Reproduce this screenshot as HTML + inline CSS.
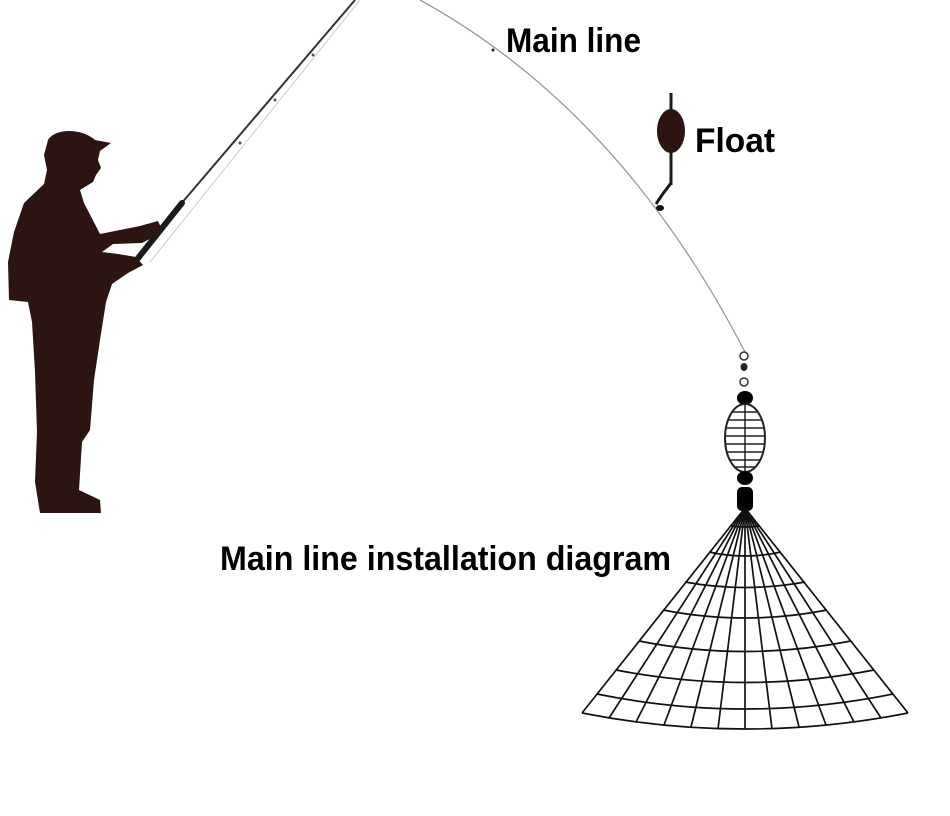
<!DOCTYPE html>
<html><head><meta charset="utf-8"><style>
html,body{margin:0;padding:0;background:#fff;}
svg{display:block;}
text{font-family:"Liberation Sans",Arial,sans-serif;font-weight:bold;fill:#000;}
</style></head><body>
<svg width="950" height="816" viewBox="0 0 950 816" xmlns="http://www.w3.org/2000/svg">
<!-- rod -->
<line x1="355" y1="0" x2="180" y2="205" stroke="#333" stroke-width="2"/>
<line x1="182" y1="203" x2="135" y2="262" stroke="#1a1a1a" stroke-width="6" stroke-linecap="round"/>
<line x1="360" y1="0" x2="150" y2="262" stroke="#ccc" stroke-width="1"/>
<circle cx="313" cy="55" r="1.5" fill="#555"/><circle cx="275" cy="100" r="1.5" fill="#555"/><circle cx="240" cy="143" r="1.5" fill="#555"/>
<!-- fisherman silhouette -->
<path fill="#2a1512" d="M48,140 C55,128 82,128 95,140 L111,143 L100,151 L98,160 L101,168 L96,175 L93,182 L80,190 L84,203 L100,234 L140,226 L158,221 L163,232 L142,243 L113,244 L102,252 L118,254 L136,257 L143,265 L128,273 L112,284 L106,302 L100,340 L94,380 L90,430 L82,442 L79,490 L100,500 L101,513 L40,513 L35,482 L37,432 L35,372 L32,322 L28,302 L9,300 L8,262 L14,232 L24,203 L44,184 L47,170 L44,155 Z"/>
<!-- main line -->
<path d="M420,0 Q620,110 745,352" fill="none" stroke="#999" stroke-width="1.3"/>
<circle cx="493" cy="50" r="1.5" fill="#222"/>
<!-- float -->
<line x1="671" y1="93" x2="671" y2="185" stroke="#1a1a1a" stroke-width="3"/>
<ellipse cx="671" cy="131" rx="14" ry="22" fill="#2a1512"/>
<path d="M671,183 L662,195 L656,204" fill="none" stroke="#1a1a1a" stroke-width="3"/>
<ellipse cx="660" cy="208" rx="4" ry="3" fill="#111"/>
<!-- rig -->
<circle cx="744" cy="356" r="4" fill="none" stroke="#333" stroke-width="1.5"/>
<ellipse cx="744" cy="367" rx="3.5" ry="4" fill="#222"/>
<circle cx="744" cy="382" r="4" fill="none" stroke="#333" stroke-width="1.5"/>
<ellipse cx="745" cy="398" rx="8" ry="7" fill="#000"/>
<ellipse cx="745" cy="438" rx="20" ry="34" fill="none" stroke="#222" stroke-width="2"/>
<line x1="745" y1="404" x2="745" y2="472" stroke="#222" stroke-width="1.5"/>
<g stroke="#222" stroke-width="1.6">
<line x1="733" y1="412" x2="757" y2="412"/><line x1="728" y1="420" x2="762" y2="420"/><line x1="726" y1="428" x2="764" y2="428"/><line x1="725" y1="436" x2="765" y2="436"/><line x1="725" y1="444" x2="765" y2="444"/><line x1="726" y1="452" x2="764" y2="452"/><line x1="729" y1="460" x2="761" y2="460"/><line x1="735" y1="467" x2="755" y2="467"/>
</g>
<ellipse cx="745" cy="478" rx="8" ry="7" fill="#000"/>
<rect x="737" y="487" width="16" height="24" rx="5" fill="#000"/>
<!-- net -->
<g fill="none" stroke="#111" stroke-width="1.7">
<line x1="745" y1="508" x2="582" y2="713"/>
<line x1="745" y1="508" x2="609" y2="718"/>
<line x1="745" y1="508" x2="636" y2="722"/>
<line x1="745" y1="508" x2="664" y2="725"/>
<line x1="745" y1="508" x2="691" y2="727"/>
<line x1="745" y1="508" x2="718" y2="729"/>
<line x1="745" y1="508" x2="745" y2="729"/>
<line x1="745" y1="508" x2="772" y2="729"/>
<line x1="745" y1="508" x2="799" y2="727"/>
<line x1="745" y1="508" x2="826" y2="725"/>
<line x1="745" y1="508" x2="854" y2="722"/>
<line x1="745" y1="508" x2="881" y2="718"/>
<line x1="745" y1="508" x2="908" y2="713"/>
<path d="M731,526 Q745,528 759,526"/>
<path d="M709,552 Q745,560 781,552"/>
<path d="M685,582 Q745,593 805,582"/>
<path d="M663,610 Q745,626 827,610"/>
<path d="M639,641 Q745,662 851,641"/>
<path d="M616,670 Q745,695 874,670"/>
<path d="M597,694 Q745,724 893,694"/>
<path d="M582,713 Q745,745 908,713"/>
</g>
<!-- labels -->
<text x="506" y="52" font-size="34" textLength="135" lengthAdjust="spacingAndGlyphs">Main line</text>
<text x="695" y="152" font-size="34" textLength="80" lengthAdjust="spacingAndGlyphs">Float</text>
<text x="220" y="570" font-size="34" textLength="451" lengthAdjust="spacingAndGlyphs">Main line installation diagram</text>
</svg>
</body></html>
